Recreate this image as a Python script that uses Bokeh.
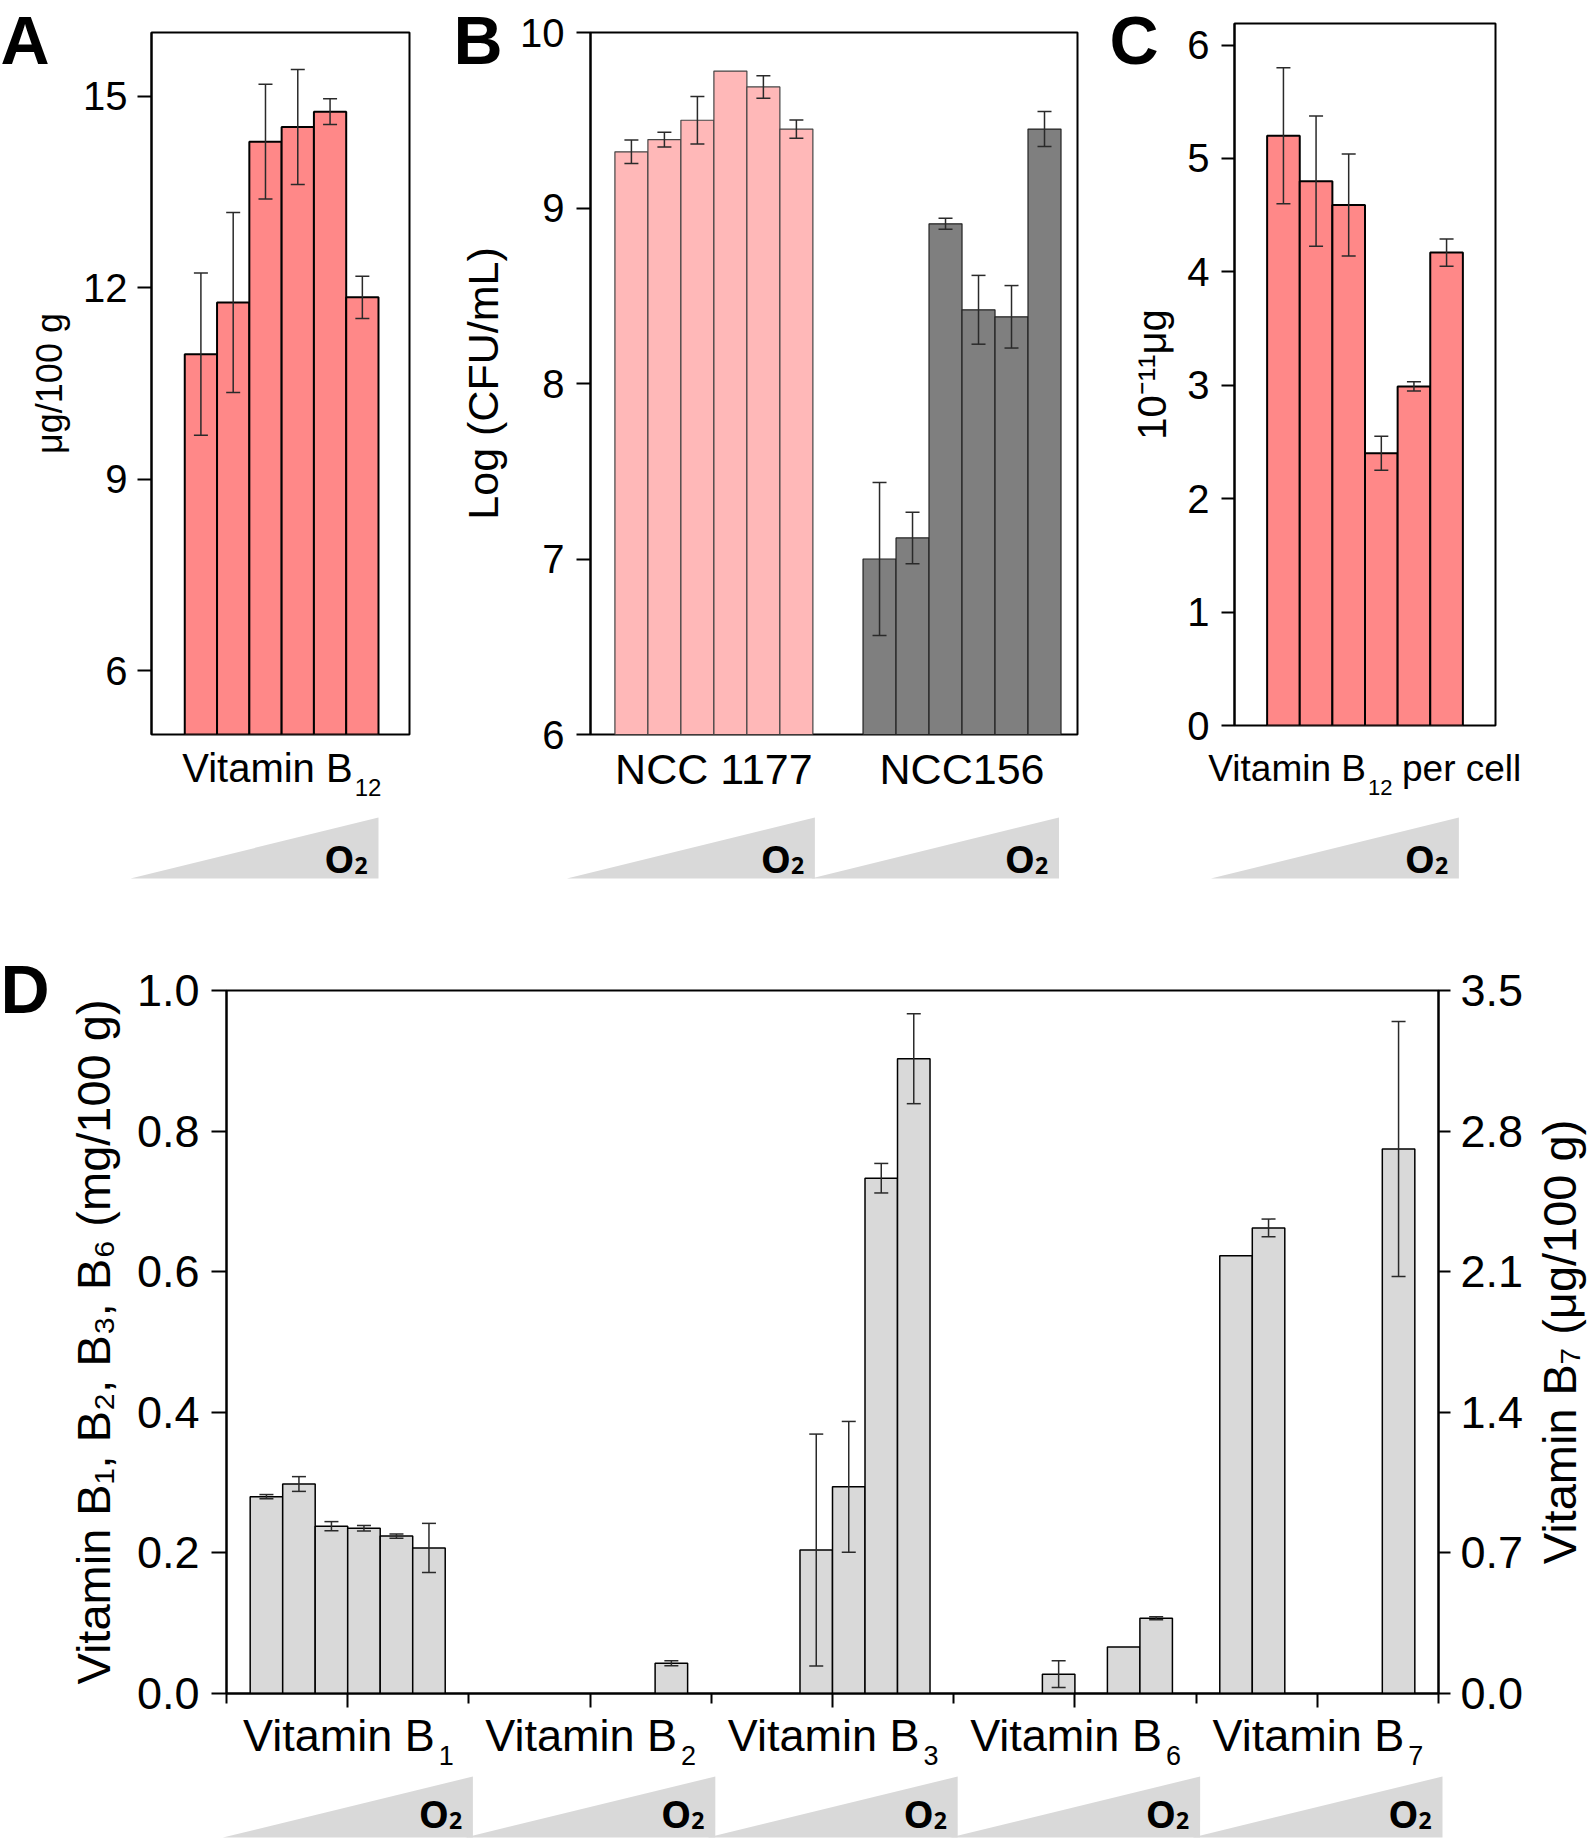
import math
from bokeh.plotting import figure
from bokeh.models import (Range1d, LinearAxis, FixedTicker, PrintfTickFormatter,
                          Whisker, TeeHead, ColumnDataSource, Spacer)
from bokeh.layouts import row, column
from bokeh.embed import file_html
from bokeh.resources import INLINE
from bokeh.core.properties import value

# ---------------- data ----------------
o2_levels = [1, 2, 3, 4, 5, 6]            # six increasing O2 conditions

a_b12 = [10.96, 11.77, 14.29, 14.52, 14.76, 11.85]
a_b12_err = [1.27, 1.41, 0.90, 0.90, 0.20, 0.33]
a_yticks = [6, 9, 12, 15]

b_strains = ["NCC 1177", "NCC156"]
b_ncc1177 = [9.32, 9.39, 9.50, 9.78, 9.69, 9.45]
b_ncc1177_err = [0.067, 0.042, 0.136, 0.0, 0.064, 0.052]
b_ncc156 = [7.00, 7.12, 8.91, 8.42, 8.38, 9.45]
b_ncc156_err = [0.436, 0.147, 0.031, 0.196, 0.178, 0.100]
b_yticks = [6, 7, 8, 9, 10]

c_b12_cell = [5.20, 4.80, 4.59, 2.40, 2.99, 4.17]
c_b12_cell_err = [0.60, 0.575, 0.45, 0.15, 0.04, 0.12]
c_yticks = [0, 1, 2, 3, 4, 5, 6]

d_vitamin_subs = ["1", "2", "3", "6", "7"]
d_b1 = [0.280, 0.298, 0.238, 0.235, 0.224, 0.207]
d_b1_err = [0.003, 0.0105, 0.0065, 0.004, 0.003, 0.035]
d_b2 = [None, None, None, None, None, 0.043]
d_b2_err = [None, None, None, None, None, 0.0035]
d_b3 = [None, None, 0.204, 0.294, 0.733, 0.903]
d_b3_err = [None, None, 0.165, 0.093, 0.021, 0.064]
d_b6 = [None, None, 0.0275, None, 0.066, 0.107]
d_b6_err = [None, None, 0.019, None, 0.0, 0.002]
d_b7 = [2.18, 2.318, None, None, None, 2.711]      # right axis, ug/100 g
d_b7_err = [0.0, 0.044, None, None, None, 0.635]
d_left_ticks = [0.0, 0.2, 0.4, 0.6, 0.8, 1.0]
d_right_ticks = [0.0, 0.7, 1.4, 2.1, 2.8, 3.5]

# ---------------- style ----------------
SANS = "Liberation Sans"
BOLD = "Open Sans"
RED = "#FF8888"
PINK = "#FFB8B8"
DARK = "#7F7F7F"
LIGHT = "#D9D9D9"
TRI = "#D9D9D9"
ERR = "#2a2a2a"
PAGE_W, PAGE_H = 1594, 1838

# geometry (page px): frame left, top, width, height, x0, x1, y0, y1
GA = (151, 32, 258, 702, -0.53, 7.46, 5.0, 16.0)
GB = (590, 32, 487, 702, -0.24, 14.52, 6.0, 10.0)
GC = (1234, 23, 261, 702, -0.50, 7.50, 0.0, 6.19)
GD = (226, 990, 1212, 703, -0.50, 4.50, 0.0, 1.0)
B_SHIFT = 7.52        # offset of second strain group (in bar widths)
D_SLOT = 0.1341       # slot width within a D group
TOP_ROW_H = 760       # height of the row holding panels A-C
D_TOP = 890           # page y where panel D's figure starts
D_BOTTOM_BORDER = 32


def d2w(g, x):
    fl, ft, fw, fh, x0, x1, y0, y1 = g
    return fl + (x - x0) / (x1 - x0) * fw


def main_fig(g, mbl, mbr, mbt, mbb, xaxis=False):
    fl, ft, fw, fh, x0, x1, y0, y1 = g
    kw = {} if xaxis else {"x_axis_type": None}
    p = figure(frame_width=fw, frame_height=fh, x_range=Range1d(x0, x1),
               y_range=Range1d(y0, y1), output_backend="svg", toolbar_location=None,
               min_border_left=mbl, min_border_right=mbr, min_border_top=mbt,
               min_border_bottom=mbb, **kw)
    p.outline_line_color = "black"
    p.outline_line_width = 2
    p.outline_line_alpha = 1
    p.background_fill_color = "white"
    p.border_fill_color = "white"
    p.grid.visible = False
    return p


def style_axis(ax, ticks, tick_out, font_px, standoff, label=None, label_px=None,
               label_standoff=None, fmt=None):
    ax.ticker = FixedTicker(ticks=ticks)
    if fmt:
        ax.formatter = PrintfTickFormatter(format=fmt)
    ax.major_tick_out = tick_out
    ax.major_tick_in = 0
    ax.minor_tick_out = 0
    ax.minor_tick_in = 0
    ax.axis_line_width = 2
    ax.axis_line_color = "black"
    ax.major_tick_line_width = 2
    ax.major_tick_line_color = "black"
    ax.major_label_text_font = SANS
    ax.major_label_text_font_size = f"{font_px}px"
    ax.major_label_text_color = "black"
    ax.major_label_standoff = standoff
    if label:
        ax.axis_label = label
        ax.axis_label_text_font = SANS
        ax.axis_label_text_font_size = f"{label_px}px"
        ax.axis_label_text_font_style = "normal"
        ax.axis_label_text_color = "black"
        ax.axis_label_standoff = label_standoff


def add_err(p, xs, vals, errs, range_name=None):
    bx, up, lo = [], [], []
    for x, v, e in zip(xs, vals, errs):
        if v is None or not e:
            continue
        bx.append(x)
        up.append(v + e)
        lo.append(v - e)
    src = ColumnDataSource(dict(base=bx, upper=up, lower=lo))
    kw = {"y_range_name": range_name} if range_name else {}
    w = Whisker(base="base", upper="upper", lower="lower", source=src,
                line_color=ERR, line_width=1.5, level="overlay",
                upper_head=TeeHead(size=14, line_color=ERR, line_width=1.5),
                lower_head=TeeHead(size=14, line_color=ERR, line_width=1.5), **kw)
    p.add_layout(w)


BASE_K = {SANS: 0.35, BOLD: 0.33}   # baseline compensation of the text glyph


def txt(p, x, y, s, size, align="left", font=SANS, bold=False, angle=0.0):
    k = BASE_K[font] * size
    if angle:
        xx, yy = x - k, y
    else:
        xx, yy = x, y - k
    p.text(x=[xx], y=[yy], text=[s], text_font=value(font),
           text_font_size=value(f"{size}px"), text_align=align,
           text_baseline="alphabetic", text_color="black", angle=angle,
           text_font_style="bold" if bold else "normal")


def o2_wedge(p, right, bottom, top, width, o_dy, s_dy):
    p.patch(x=[right - width, right, right], y=[bottom, bottom, top],
            fill_color=TRI, line_color=None)
    txt(p, right - 24, bottom - o_dy, "O", 38, "right", BOLD, True)
    txt(p, right - 24, bottom - s_dy, "2", 23, "left", BOLD, True)


# ---------------- panel A ----------------
pA = main_fig(GA, 151, 41, 32, TOP_ROW_H - 32 - 702)
pA.vbar(x=o2_levels, top=a_b12, bottom=GA[6], width=1.0, fill_color=RED,
        line_color="black", line_width=2)
add_err(pA, o2_levels, a_b12, a_b12_err)
style_axis(pA.yaxis[0], a_yticks, 14, 40, 10, "\u03bcg/100 g", 36, 10)

# ---------------- panel B ----------------
pB = main_fig(GB, 140, 28, 32, TOP_ROW_H - 32 - 702)
xb1 = [x for x in o2_levels]
xb2 = [x + B_SHIFT for x in o2_levels]
pB.vbar(x=xb1, top=b_ncc1177, bottom=GB[6], width=1.0, fill_color=PINK,
        line_color="#444444", line_width=1.2)
pB.vbar(x=xb2, top=b_ncc156, bottom=GB[6], width=1.0, fill_color=DARK,
        line_color="#222222", line_width=1.2)
add_err(pB, xb1, b_ncc1177, b_ncc1177_err)
add_err(pB, xb2, b_ncc156, b_ncc156_err)
style_axis(pB.yaxis[0], b_yticks, 14, 40, 12, "Log (CFU/mL)", 43, 10)

# ---------------- panel C ----------------
pC = main_fig(GC, 129, 99, 23, TOP_ROW_H - 23 - 702)
pC.vbar(x=o2_levels, top=c_b12_cell, bottom=0, width=1.0, fill_color=RED,
        line_color="black", line_width=2)
add_err(pC, o2_levels, c_b12_cell, c_b12_cell_err)
style_axis(pC.yaxis[0], c_yticks, 13, 40, 12, "10\u207b\u00b9\u00b9\u03bcg", 40, 10)

# ---------------- panel D ----------------
pD = main_fig(GD, 226, 156, GD[1] - D_TOP, D_BOTTOM_BORDER, xaxis=True)
pD.extra_y_ranges = {"b7": Range1d(0, 3.5)}

left_series = [(d_b1, d_b1_err), (d_b2, d_b2_err), (d_b3, d_b3_err), (d_b6, d_b6_err)]
for g, (vals, errs) in enumerate(left_series):
    xs = [g + (s - 2.5) * D_SLOT for s, v in enumerate(vals) if v is not None]
    tops = [v for v in vals if v is not None]
    pD.vbar(x=xs, top=tops, bottom=0, width=D_SLOT, fill_color=LIGHT,
            line_color="black", line_width=1.5)
    add_err(pD, [g + (s - 2.5) * D_SLOT for s in range(6)], vals, errs)

g7 = 4
xs7 = [g7 + (s - 2.5) * D_SLOT for s, v in enumerate(d_b7) if v is not None]
tops7 = [v for v in d_b7 if v is not None]
pD.vbar(x=xs7, top=tops7, bottom=0, width=D_SLOT, fill_color=LIGHT,
        line_color="black", line_width=1.5, y_range_name="b7")
add_err(pD, [g7 + (s - 2.5) * D_SLOT for s in range(6)], d_b7, d_b7_err, "b7")

style_axis(pD.yaxis[0], d_left_ticks, 15, 45, 12,
           "Vitamin B\u2081, B\u2082, B\u2083, B\u2086 (mg/100 g)", 47, 14, "%.1f")
rax = LinearAxis(y_range_name="b7")
pD.add_layout(rax, "right")
style_axis(rax, d_right_ticks, 12, 45, 10, None, None, None, "%.1f")

xax = pD.xaxis[0]
xax.ticker = FixedTicker(ticks=[0, 1, 2, 3, 4],
                         minor_ticks=[-0.5, 0.5, 1.5, 2.5, 3.5, 4.5])
xax.major_tick_out = 14
xax.major_tick_in = 0
xax.minor_tick_out = 10
xax.minor_tick_in = 0
xax.axis_line_width = 2
xax.major_tick_line_width = 2
xax.minor_tick_line_width = 2
xax.major_tick_line_color = "black"
xax.minor_tick_line_color = "black"
xax.major_label_text_font_size = "1px"
xax.major_label_standoff = 0
xax.major_label_overrides = {0: "", 1: "", 2: "", 3: "", 4: ""}

# ---------------- transparent overlay: category labels, O2 wedges, letters ----------------
ov = figure(frame_width=PAGE_W, frame_height=PAGE_H, x_range=Range1d(0, PAGE_W),
            y_range=Range1d(PAGE_H, 0), x_axis_type=None, y_axis_type=None,
            output_backend="svg", toolbar_location=None, min_border=0)
ov.outline_line_color = None
ov.background_fill_color = None
ov.border_fill_color = None

# panel A-C category labels
cA = d2w(GA, 3.5)
txt(ov, cA + 71, 781, "Vitamin B", 40, "right")
txt(ov, cA + 73, 795, "12", 24, "left")
txt(ov, d2w(GB, 3.5), 784, b_strains[0], 43, "center")
txt(ov, d2w(GB, 3.5 + B_SHIFT), 784, b_strains[1], 43, "center")
cC = d2w(GC, 3.5)
startC = cC - 157
txt(ov, startC + 158, 781, "Vitamin B", 37, "right")
txt(ov, startC + 160, 795, "12", 22, "left")
txt(ov, startC + 194, 781, "per cell", 37, "left")
o2_wedge(ov, d2w(GA, 6.5), 878, 817, 248, 8, 5)
o2_wedge(ov, d2w(GB, 6.5) + 2, 878, 817, 248, 8, 5)
o2_wedge(ov, d2w(GB, 6.5 + B_SHIFT) - 2, 878, 817, 248, 8, 5)
o2_wedge(ov, d2w(GC, 6.5) - 4, 878, 817, 248, 8, 5)

# panel D category labels and wedges
for g, sub in enumerate(d_vitamin_subs):
    c = d2w(GD, g)
    txt(ov, c + 87, 1751, "Vitamin B", 45, "right")
    txt(ov, c + 91, 1764, sub, 27, "left")
    o2_wedge(ov, d2w(GD, g + 0.5) + 4, 1837, 1776, 250, 12, 9)

# panel letters (kept fully inside the page) and right axis title
txt(ov, 0, 63, "A", 68, "left", SANS, True)
txt(ov, 453, 63, "B", 68, "left", SANS, True)
txt(ov, 1109, 63, "C", 68, "left", SANS, True)
txt(ov, 0, 1012, "D", 68, "left", SANS, True)
txt(ov, 1575, GD[1] + GD[3] / 2, "Vitamin B\u2087 (\u03bcg/100 g)", 47, "center",
    angle=math.pi / 2)

d_fig_h = (GD[1] - D_TOP) + GD[3] + D_BOTTOM_BORDER
top = row(column(pA), column(pB), column(pC), spacing=0)
layout = column(top,
                Spacer(width=PAGE_W, height=D_TOP - TOP_ROW_H),
                row(pD),
                Spacer(width=PAGE_W, height=PAGE_H - D_TOP - d_fig_h),
                row(ov, margin=(-PAGE_H, 0, 0, 0)), spacing=0)
open("out.html", "w").write(file_html(layout, INLINE))
